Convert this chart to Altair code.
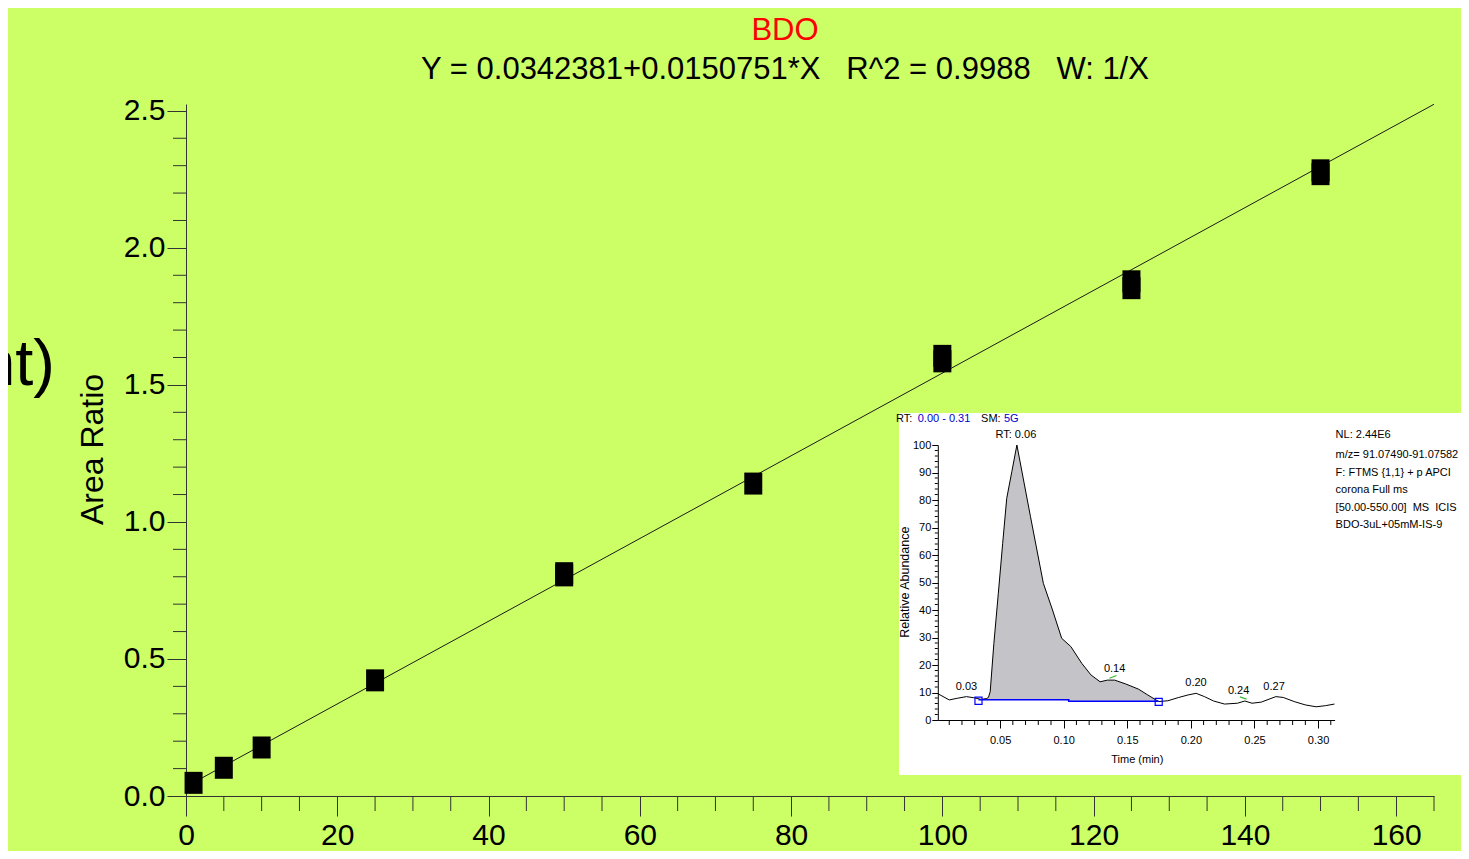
import altair as alt
import pandas as pd

FONT = "Liberation Sans"

# ---- calibration curve (main chart) ----
conc = [1, 5, 10, 25, 50, 50, 75, 100, 100, 125, 125, 150, 150]
area_ratio = [0.048, 0.103, 0.177, 0.422, 0.813, 0.805, 1.140, 1.606, 1.586,
              1.878, 1.853, 2.283, 2.269]
fit_x = [0, 165]
fit_y = [0.034, 2.524]
x_major = list(range(0, 161, 20))
x_minor = [v for v in range(0, 166, 5) if v % 20 != 0]
y_major = [0.0, 0.5, 1.0, 1.5, 2.0, 2.5]
y_minor = [round(i * 0.1, 1) for i in range(26) if i % 5 != 0]

title_text = "BDO"
subtitle_text = "Y = 0.0342381+0.0150751*X\u00a0\u00a0\u00a0R^2 = 0.9988\u00a0\u00a0\u00a0W: 1/X"
side_text = ["nt)"]

# ---- inset chromatogram ----
trace_t = [0.0013, 0.010, 0.0163, 0.0235, 0.0293, 0.035, 0.0393, 0.0408, 0.0422,
           0.0451, 0.0486, 0.052, 0.0552, 0.0592, 0.0632, 0.0739, 0.084, 0.0912,
           0.0984, 0.1056, 0.1142, 0.1214, 0.1286, 0.1344, 0.1401, 0.1488, 0.1589,
           0.1661, 0.1747, 0.1819, 0.1905, 0.1977, 0.2041, 0.2107, 0.2179, 0.2265,
           0.2366, 0.2424, 0.2481, 0.2553, 0.2668, 0.2726, 0.2812, 0.2899, 0.2985,
           0.3057, 0.3129]
trace_a = [9.5, 7.3, 7.9, 8.5, 8.1, 7.5, 7.8, 8.2, 10.3, 27.9, 46.1, 64.2, 80.6,
           90.3, 100, 73.9, 49.7, 40.0, 29.7, 26.7, 20.6, 16.4, 13.9, 14.5, 14.5,
           13.1, 11.2, 9.1, 6.7, 7.0, 8.2, 9.1, 9.7, 8.5, 6.9, 5.8, 6.1, 6.9, 6.1,
           6.5, 8.5, 8.2, 6.7, 5.5, 4.8, 5.2, 5.8]
peak_start = 0.033
peak_end = 0.1747
base_t = [0.033, 0.104, 0.104, 0.1747]
base_a = [7.4, 7.4, 6.8, 6.8]
marker_t = [0.033, 0.1747]
marker_a = [7.0, 6.6]
apex_t = [0.136, 0.2386]
apex_t2 = [0.1415, 0.2438]
apex_a = [15.2, 8.4]
apex_a2 = [16.2, 7.6]
peak_labels = ["RT: 0.06", "0.03", "0.14", "0.20", "0.24", "0.27"]
peak_label_t = [0.0624, 0.0235, 0.140, 0.204, 0.2375, 0.2654]
peak_label_a = [103.6, 11.9, 18.4, 13.6, 10.5, 12.1]
header_text = ["RT:", "0.00 - 0.31", "SM:", "5G"]
header_color = ["#000000", "#0000CC", "#000000", "#0000CC"]
header_t = [-0.0319, -0.0148, 0.035, 0.053]
header_a = [109.3, 109.3, 109.3, 109.3]
info_lines = ["NL: 2.44E6", "m/z= 91.07490-91.07582", "F: FTMS {1,1} + p APCI",
              "corona Full ms", "[50.00-550.00]\u00a0\u00a0MS\u00a0\u00a0ICIS",
              "BDO-3uL+05mM-IS-9"]
info_t = [0.3138] * 6
info_a = [103.6, 96.4, 89.9, 83.6, 77.2, 70.8]
panel_t = [-0.0295, 0.4186]
panel_a = [-20.0, 111.6]
ix_major = [0.05, 0.10, 0.15, 0.20, 0.25, 0.30]
ix_minor = [round(0.01 * i, 2) for i in range(1, 32) if i % 5 != 0]
iy_major = list(range(0, 101, 10))
iy_minor = [v for v in range(0, 101, 2) if v % 10 != 0]

W, H = 1248, 692
AX = "#333333"

# ---------------- main chart ----------------
cal_df = pd.DataFrame({"x": conc, "y": area_ratio})
fit_df = pd.DataFrame({"x": fit_x, "y": fit_y})
side_df = pd.DataFrame({"label": side_text})
xminor_df = pd.DataFrame({"x": x_minor})
yminor_df = pd.DataFrame({"y": y_minor})

xs = alt.Scale(domain=[0, 165], nice=False, zero=False)
ys = alt.Scale(domain=[0, 2.525], nice=False, zero=False)

x_axis = alt.Axis(
    values=x_major, title=None, grid=False, tickSize=20,
    labelFont=FONT, labelFontSize=30, labelColor="black", labelPadding=4,
    labelOverlap=False, labelFlush=False, domainColor=AX, tickColor=AX,
)
y_axis = alt.Axis(
    values=y_major, grid=False, title="Area Ratio", format=".1f", tickSize=19,
    labelFont=FONT, labelFontSize=30, labelColor="black", labelPadding=2,
    labelOverlap=False, labelFlush=False, domainColor=AX, tickColor=AX,
    titleFont=FONT, titleFontSize=32, titleFontWeight="normal", titleColor="black",
    titleAngle=270, titleX=-94, titleY=345, titleAlign="center", titleBaseline="middle",
)

fit_line = alt.Chart(fit_df).mark_line(color="#1a1a1a", strokeWidth=1).encode(
    x=alt.X("x:Q", scale=xs, axis=x_axis),
    y=alt.Y("y:Q", scale=ys, axis=y_axis),
)
points = alt.Chart(cal_df).mark_point(
    shape="M-0.818,-1H0.818V1H-0.818Z", filled=True, size=484,
    color="black", opacity=1, strokeWidth=0,
).encode(
    x=alt.X("x:Q", scale=xs),
    y=alt.Y("y:Q", scale=ys),
)
xminor = alt.Chart(xminor_df).mark_rule(color=AX, strokeWidth=1).encode(
    x=alt.X("x:Q", scale=xs), y=alt.value(H), y2=alt.value(H + 15),
)
yminor = alt.Chart(yminor_df).mark_rule(color=AX, strokeWidth=1).encode(
    y=alt.Y("y:Q", scale=ys), x=alt.value(0), x2=alt.value(-13),
)
side = alt.Chart(side_df).mark_text(
    align="right", baseline="alphabetic", fontSize=65, font=FONT, color="black"
).encode(x=alt.value(-131), y=alt.value(281), text="label:N")

main = alt.layer(fit_line, points, xminor, yminor, side)

# ---------------- inset ----------------
ts = alt.Scale(domain=[0.001, 0.313], range=[751.8, 1148.6], nice=False, zero=False)
as_ = alt.Scale(domain=[0, 100], range=[616, 341], nice=False, zero=False)
IX0, IY0 = 751.8, 616

trace_df = pd.DataFrame({"t": trace_t, "a": trace_a})
area_df = trace_df[(trace_df.t >= peak_start) & (trace_df.t <= peak_end)].copy()
area_df = pd.concat([pd.DataFrame({"t": [peak_start], "a": [7.4]}), area_df], ignore_index=True)
area_df["b"] = [7.4 if t < 0.104 else 6.8 for t in area_df.t]
base_df = pd.DataFrame({"t": base_t, "a": base_a, "o": list(range(len(base_t)))})
marker_df = pd.DataFrame({"t": marker_t, "a": marker_a})
apex_df = pd.DataFrame({"t": apex_t, "t2": apex_t2, "a": apex_a, "a2": apex_a2})
plab_df = pd.DataFrame({"t": peak_label_t, "a": peak_label_a, "label": peak_labels})
head_df = pd.DataFrame({"t": header_t, "a": header_a, "label": header_text, "c": header_color})
info_df = pd.DataFrame({"t": info_t, "a": info_a, "label": info_lines})
panel_df = pd.DataFrame({"t": [panel_t[0]], "t2": [panel_t[1]], "a": [panel_a[0]], "a2": [panel_a[1]]})
ixminor_df = pd.DataFrame({"t": ix_minor})
iyminor_df = pd.DataFrame({"a": iy_minor})

ix_axis = alt.Axis(
    orient="bottom", offset=-(H - IY0), zindex=1, values=ix_major, grid=False,
    format=".2f", tickSize=8,
    labelFont=FONT, labelFontSize=11, labelColor="black", labelPadding=6,
    labelOverlap=False, labelFlush=False, domainColor="black", tickColor="black",
    title="Time (min)", titleFont=FONT, titleFontSize=11, titleFontWeight="normal",
    titleColor="black", titleX=950.8, titleY=39, titleAlign="center", titleBaseline="middle",
)
iy_axis = alt.Axis(
    orient="left", offset=-IX0, zindex=1, values=iy_major, grid=False, tickSize=6,
    labelFont=FONT, labelFontSize=11, labelColor="black", labelPadding=1,
    labelOverlap=False, labelFlush=False, domainColor="black", tickColor="black",
    title="Relative Abundance", titleFont=FONT, titleFontSize=12.5, titleFontWeight="normal",
    titleColor="black", titleAngle=270, titleX=-33.6, titleY=477.7,
    titleAlign="center", titleBaseline="middle",
)

panel = alt.Chart(panel_df).mark_rect(color="white").encode(
    x=alt.X("t:Q", scale=ts, axis=ix_axis), x2="t2:Q",
    y=alt.Y("a:Q", scale=as_, axis=iy_axis), y2="a2:Q",
)
shade = alt.Chart(area_df).mark_area(color="#C4C4C8", opacity=1).encode(
    x=alt.X("t:Q", scale=ts), y=alt.Y("a:Q", scale=as_), y2="b:Q",
)
trace = alt.Chart(trace_df).mark_line(color="black", strokeWidth=1).encode(
    x=alt.X("t:Q", scale=ts), y=alt.Y("a:Q", scale=as_),
)
base = alt.Chart(base_df).mark_line(color="#0000FF", strokeWidth=1.5).encode(
    x=alt.X("t:Q", scale=ts), y=alt.Y("a:Q", scale=as_), order="o:Q",
)
markers = alt.Chart(marker_df).mark_point(
    shape="square", filled=False, size=50, color="#0000FF", strokeWidth=1.2, opacity=1
).encode(x=alt.X("t:Q", scale=ts), y=alt.Y("a:Q", scale=as_))
apex = alt.Chart(apex_df).mark_rule(color="#33BB33", strokeWidth=1.2).encode(
    x=alt.X("t:Q", scale=ts), x2="t2:Q", y=alt.Y("a:Q", scale=as_), y2="a2:Q",
)
ixminor = alt.Chart(ixminor_df).mark_rule(color="black", strokeWidth=1).encode(
    x=alt.X("t:Q", scale=ts), y=alt.value(IY0), y2=alt.value(IY0 + 5),
)
iyminor = alt.Chart(iyminor_df).mark_rule(color="black", strokeWidth=1).encode(
    y=alt.Y("a:Q", scale=as_), x=alt.value(IX0), x2=alt.value(IX0 - 3),
)
plabels = alt.Chart(plab_df).mark_text(
    fontSize=11, font=FONT, color="black", align="center", baseline="middle"
).encode(x=alt.X("t:Q", scale=ts), y=alt.Y("a:Q", scale=as_), text="label:N")
header = alt.Chart(head_df).mark_text(
    fontSize=11, font=FONT, align="left", baseline="middle"
).encode(
    x=alt.X("t:Q", scale=ts), y=alt.Y("a:Q", scale=as_),
    text="label:N", color=alt.Color("c:N", scale=None),
)
info = alt.Chart(info_df).mark_text(
    fontSize=11, font=FONT, color="black", align="left", baseline="middle"
).encode(x=alt.X("t:Q", scale=ts), y=alt.Y("a:Q", scale=as_), text="label:N")

inset = alt.layer(panel, shade, trace, base, markers, apex, ixminor, iyminor,
                  plabels, header, info)

chart = alt.layer(main, inset).resolve_scale(
    x="independent", y="independent"
).properties(
    width=W, height=H,
    background="#CCFF66",
    padding={"left": 178, "top": 96, "right": 27, "bottom": 55},
    autosize=alt.AutoSizeParams(type="none"),
    title=alt.TitleParams(
        text=title_text, subtitle=subtitle_text, anchor="middle", dx=-25, offset=10,
        font=FONT, fontSize=31, fontWeight="normal", color="red",
        subtitleFont=FONT, subtitleFontSize=31, subtitleColor="black", subtitlePadding=8,
    ),
).configure_view(stroke=None)

chart.save("out.html", embed_options={"renderer": "svg", "actions": False})
